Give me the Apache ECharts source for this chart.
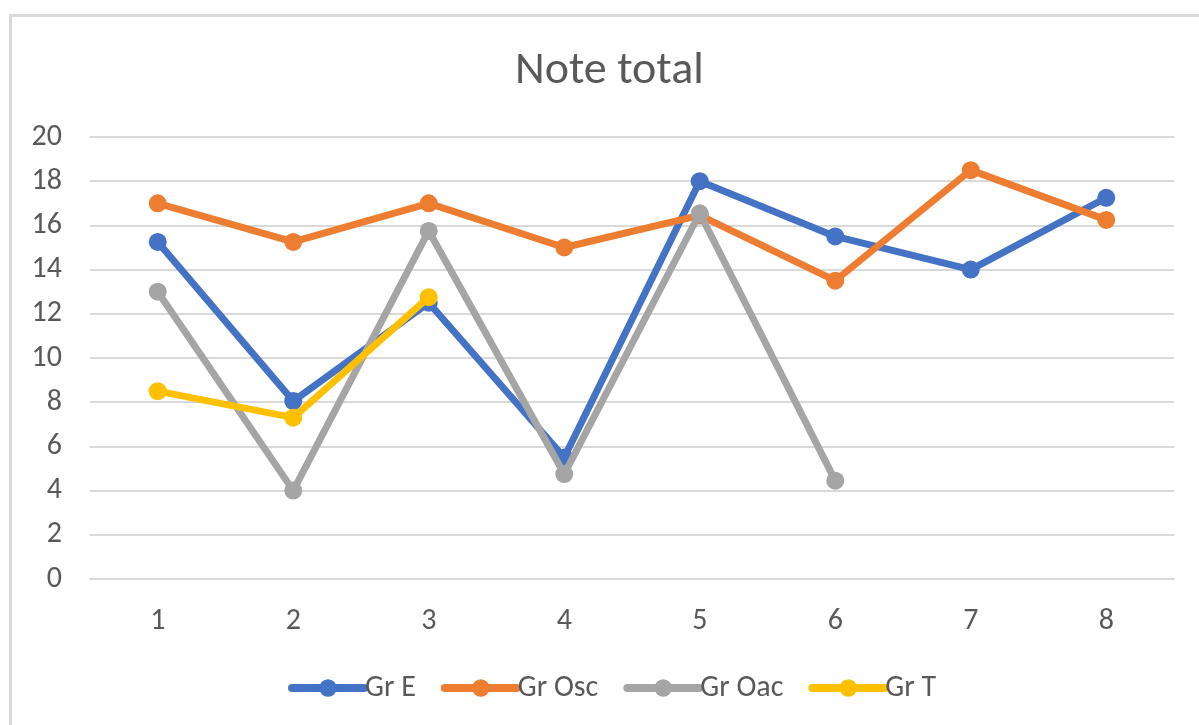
<!DOCTYPE html>
<html><head><meta charset="utf-8">
<script src="https://cdn.jsdelivr.net/npm/echarts@6/dist/echarts.min.js"></script>
<style>html,body{margin:0;padding:0;background:#fff}#c{width:1199px;height:725px}</style>
</head><body><div id="c"></div>
<script>
const categories = ['1','2','3','4','5','6','7','8'];
const grE   = [15.25, 8.05, 12.5, 5.5, 18.0, 15.5, 14.0, 17.25];
const grOsc = [17.0, 15.25, 17.0, 15.0, 16.45, 13.5, 18.5, 16.25];
const grOac = [13.0, 4.0, 15.75, 4.75, 16.55, 4.45, null, null];
const grT   = [8.5, 7.3, 12.75, null, null, null, null, null];
const seriesNames = ['Gr E','Gr Osc','Gr Oac','Gr T'];
const colors = ['#4472C4','#ED7D31','#A5A5A5','#FFC000'];
const font = 'Carlito, Calibri, "Open Sans", "Liberation Sans", sans-serif';
const chart = echarts.init(document.getElementById('c'));
const mk = (name, data, i) => ({
  name, type:'line', data, connectNulls:false,
  symbol:'circle', symbolSize:18,
  lineStyle:{width:7, color:colors[i], cap:'round', join:'round'},
  itemStyle:{color:colors[i]}, z:2+i
});
chart.setOption({
  animation:false,
  color:colors,
  graphic:[{type:'rect', shape:{x:10.5,y:15.5,width:1400,height:900}, style:{fill:null, stroke:'#d9d9d9', lineWidth:3}, silent:true}],
  title:{text:'Note total', left:510, top:43, textStyle:{fontFamily:font, fontSize:46, fontWeight:'normal', color:'#595959'}},
  grid:{left:90, right:25, top:137, bottom:146},
  xAxis:{type:'category', data:categories, boundaryGap:true,
    axisLine:{show:true, lineStyle:{color:'#d9d9d9', width:2}}, axisTick:{show:false},
    axisLabel:{fontFamily:font, fontSize:30, color:'#595959', margin:27}},
  yAxis:{type:'value', min:0, max:20, interval:2,
    axisLine:{show:false}, axisTick:{show:false},
    splitLine:{lineStyle:{color:'#d9d9d9', width:2}},
    axisLabel:{fontFamily:font, fontSize:30, color:'#595959', margin:28}},
  legend:{data:seriesNames, top:673, left:288, padding:0, itemWidth:72, itemHeight:22, itemGap:25,
    lineStyle:{width:8, cap:'round'},
    textStyle:{fontFamily:font, fontSize:30, color:'#595959', padding:[0,0,0,-4]}},
  series:[mk(seriesNames[0],grE,0), mk(seriesNames[1],grOsc,1), mk(seriesNames[2],grOac,2), mk(seriesNames[3],grT,3)]
});
</script></body></html>
